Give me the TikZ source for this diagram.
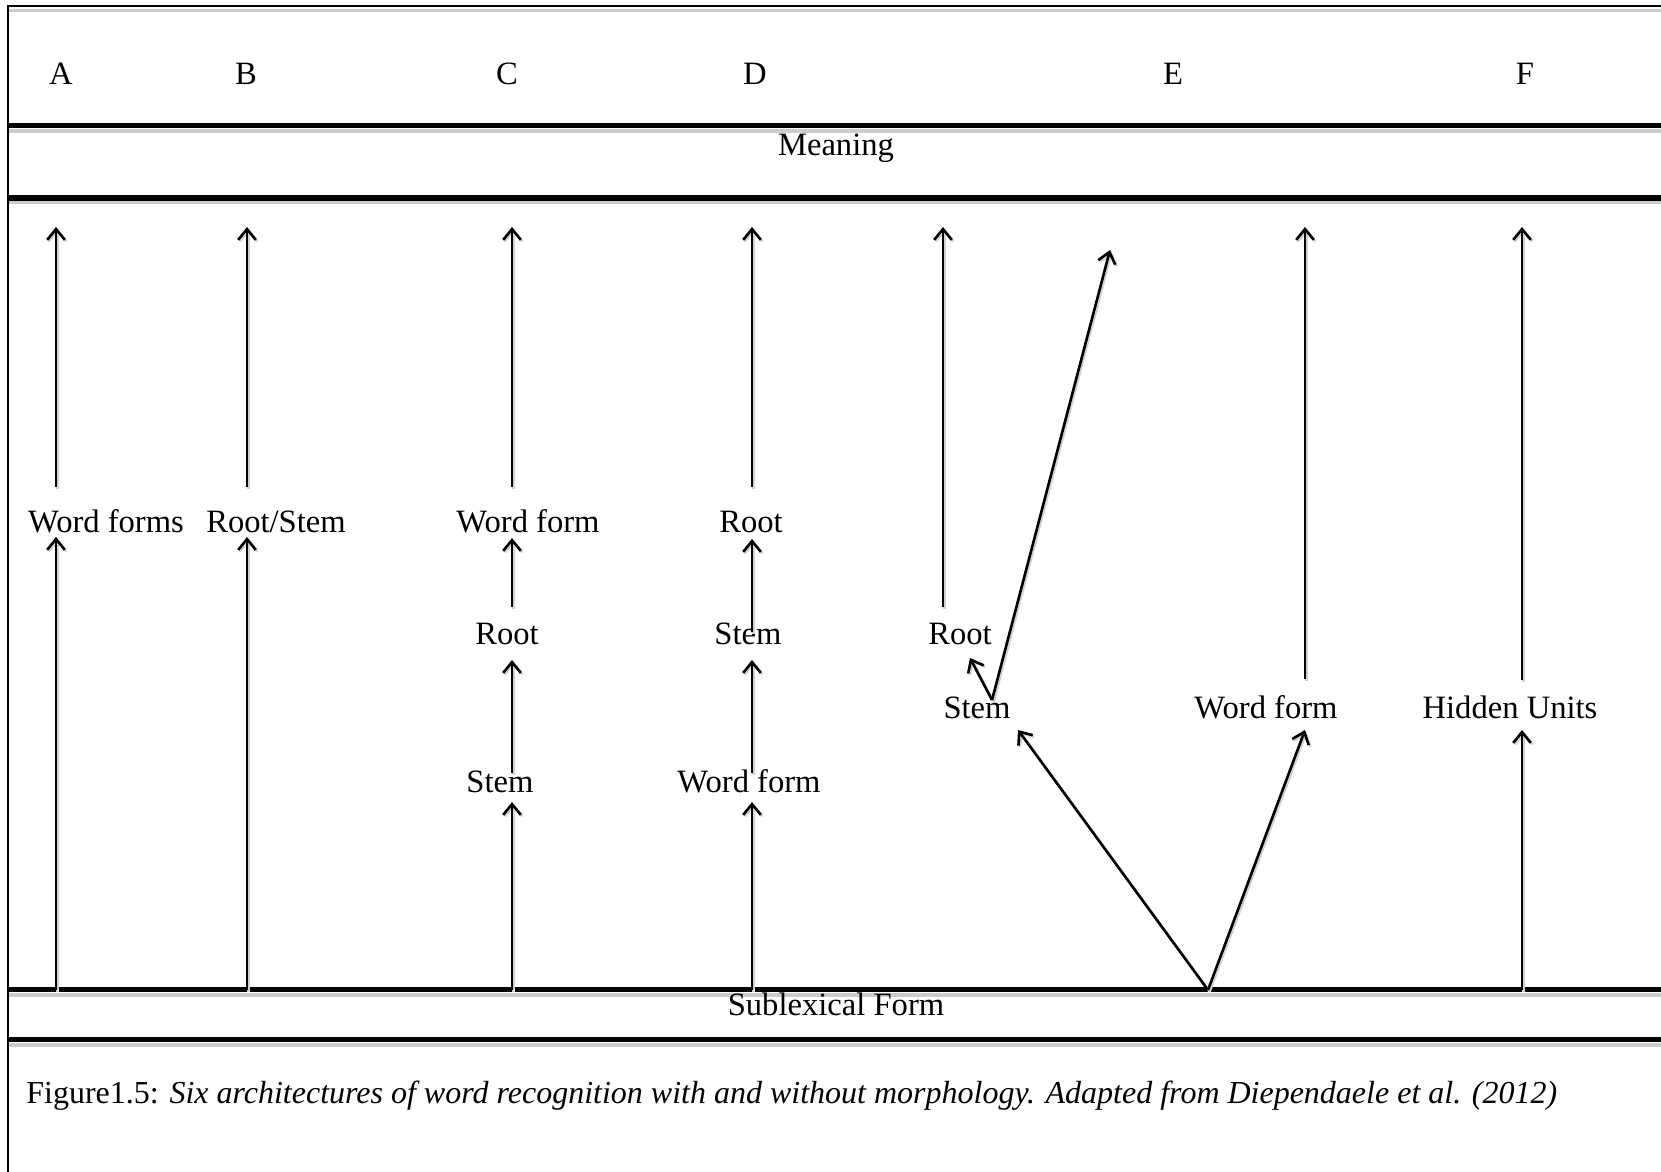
\documentclass[tikz,border=0pt]{standalone}
\usepackage{fontspec}
\setmainfont{Liberation Serif}
\usetikzlibrary{arrows.meta}
\begin{document}
\begin{tikzpicture}[x=0.5pt,y=-0.5pt,
  lbl/.style={inner sep=0pt, text height=10.9pt, text depth=0pt, font=\fontsize{16.3}{19}\selectfont},
  arr/.style={line width=1.3pt, -{Straight Barb[length=5.4pt,width=8.8pt,line width=1.3pt]}},
  arrshadow/.style={line width=1.3pt, draw=black!18, -{Straight Barb[length=5.4pt,width=8.8pt,line width=1.3pt]}},
  band/.style={line width=2.7pt},
  bandshadow/.style={line width=2pt, draw=black!20}]
\useasboundingbox (0,0) rectangle (1661,1172);
\fill[white] (0,0) rectangle (1661,1172);
% frame
\draw[black!20, line width=1.2pt] (9,10.5) -- (1661,10.5);
\draw[line width=1.1pt] (8,1172) -- (8,6) -- (1661,6);
% bands
\foreach \y/\s in {125.5/131, 198/202.5, 989.5/994.5, 1039.5/1045}{
  \draw[bandshadow] (9,\s) -- (1661,\s);
  \draw[band] (8,\y) -- (1661,\y);
}
% headers
\node[lbl] (hA) at (61,74) {A};
\node[lbl] (hB) at (246,74) {B};
\node[lbl] (hC) at (507,74) {C};
\node[lbl] (hD) at (755,74) {D};
\node[lbl] (hE) at (1173,74) {E};
\node[lbl] (hF) at (1525,74) {F};
\node[lbl] (mean) at (836,145) {Meaning};
\node[lbl] (sub) at (836,1005) {Sublexical Form};
% labels
\node[lbl] (wfA) at (106,522) {Word forms};
\node[lbl] (rsB) at (276,522) {Root/Stem};
\node[lbl] (wfC) at (528,522) {Word form};
\node[lbl] (rootC) at (507,634) {Root};
\node[lbl] (stemC) at (500,782) {Stem};
\node[lbl] (rootD) at (751,522) {Root};
\node[lbl] (stemD) at (748,634) {Stem};
\node[lbl] (wfD) at (749,782) {Word form};
\node[lbl] (rootE) at (960,634) {Root};
\node[lbl] (stemE) at (977,708) {Stem};
\node[lbl] (wfE) at (1266,708) {Word form};
\node[lbl] (hu) at (1510,708) {Hidden Units};
\node[lbl, anchor=base west, font=\fontsize{16}{19}\selectfont] (cap) at (26,1103) {Figure1.5: \textit{Six architectures of word recognition with and without morphology. Adapted from Diependaele et al. (2012)}};
% connector ends on the bands
\coordinate (tA) at (56,227);  \coordinate (bA) at (56,990);
\coordinate (tB) at (247,227); \coordinate (bB) at (247,990);
\coordinate (tC) at (512,227); \coordinate (bC) at (512,990);
\coordinate (tD) at (752,227); \coordinate (bD) at (752,990);
\coordinate (tE1) at (943,227);
\coordinate (tE2) at (1110,250);
\coordinate (tE3) at (1305,227);
\coordinate (bE) at (1208,990);
\coordinate (tF) at (1522,227); \coordinate (bF) at (1522,990);
% arrows (soft shadow first, then the arrow)
\foreach \st/\sh in {arrshadow/0.8pt, arr/0pt}{
\begin{scope}[transform canvas={xshift=\sh,yshift=-\sh}]
\draw[\st] ([shift={(-50,-35)}]wfA.center) -- (tA);
\draw[\st] (bA) -- ([shift={(-50,15)}]wfA.center);
\draw[\st] ([shift={(-29,-35)}]rsB.center) -- (tB);
\draw[\st] (bB) -- ([shift={(-29,15)}]rsB.center);
\draw[\st] ([shift={(-16,-35)}]wfC.center) -- (tC);
\draw[\st] ([shift={(5,-27)}]rootC.center) -- ([shift={(-16,16)}]wfC.center);
\draw[\st] ([shift={(12,-9)}]stemC.center) -- ([shift={(5,26)}]rootC.center);
\draw[\st] (bC) -- ([shift={(12,20)}]stemC.center);
\draw[\st] ([shift={(1,-35)}]rootD.center) -- (tD);
\draw[\st] ([shift={(4,-2)}]stemD.center) -- ([shift={(1,17)}]rootD.center);
\draw[\st] ([shift={(3,-9)}]wfD.center) -- ([shift={(4,26)}]stemD.center);
\draw[\st] (bD) -- ([shift={(3,20)}]wfD.center);
\draw[\st] ([shift={(-17,-27)}]rootE.center) -- (tE1);
\draw[\st] ([shift={(15,-8)}]stemE.center) -- ([shift={(10,24)}]rootE.center);
\draw[\st] ([shift={(15,-8)}]stemE.center) -- (tE2);
\draw[\st] (bE) -- ([shift={(41,22)}]stemE.center);
\draw[\st] (bE) -- ([shift={(39,22)}]wfE.center);
\draw[\st] ([shift={(39,-29)}]wfE.center) -- (tE3);
\draw[\st] ([shift={(12,-28)}]hu.center) -- (tF);
\draw[\st] (bF) -- ([shift={(12,22)}]hu.center);
\end{scope}
}
\end{tikzpicture}
\end{document}
